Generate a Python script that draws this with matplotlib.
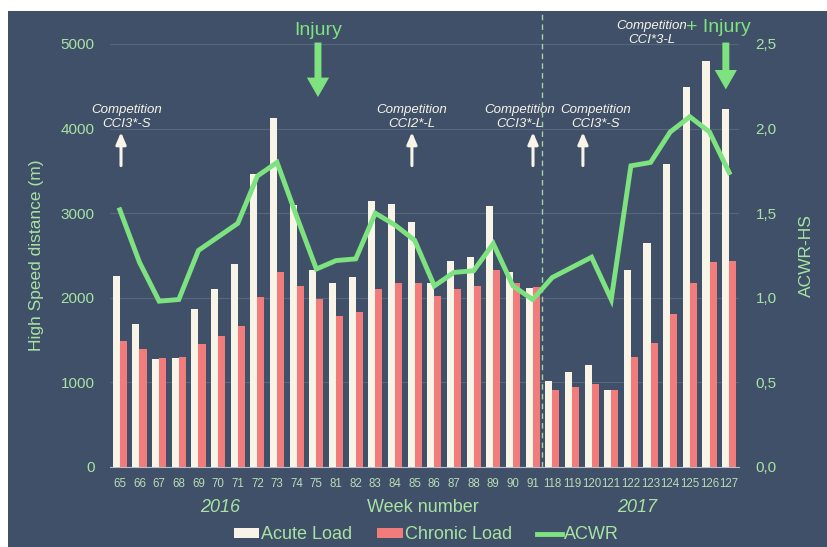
import numpy as np
import matplotlib
matplotlib.use('Agg')
import matplotlib.pyplot as plt
from matplotlib.patches import Rectangle

# ---- data ----
weeks = ['65', '66', '67', '68', '69', '70', '71', '72', '73', '74', '75',
         '81', '82', '83', '84', '85', '86', '87', '88', '89', '90', '91',
         '118', '119', '120', '121', '122', '123', '124', '125', '126', '127']
acute_load = [2260, 1695, 1275, 1290, 1865, 2105, 2405, 3460, 4130, 3100, 2325,
              2170, 2240, 3145, 3110, 2900, 2170, 2440, 2480, 3080, 2310, 2120,
              1020, 1120, 1210, 905, 2325, 2650, 3580, 4490, 4800, 4235]
chronic_load = [1490, 1390, 1290, 1295, 1455, 1550, 1670, 2010, 2300, 2140, 1990,
                1785, 1830, 2105, 2170, 2175, 2025, 2105, 2145, 2330, 2170, 2130,
                910, 945, 980, 910, 1305, 1465, 1805, 2175, 2420, 2430]
acwr = [1.52, 1.21, 0.98, 0.99, 1.28, 1.36, 1.44, 1.72, 1.80, 1.48, 1.17,
        1.22, 1.23, 1.50, 1.43, 1.34, 1.07, 1.15, 1.16, 1.32, 1.07, 0.99,
        1.12, 1.18, 1.24, 0.99, 1.78, 1.80, 1.98, 2.07, 1.98, 1.74]

# competitions: (week, label, arrow offset, text offset) offsets in category units
competitions = [('65', 'Competition\nCCI3*-S', 0.06, 0.36),
                ('85', 'Competition\nCCI2*-L', -0.14, -0.14),
                ('91', 'Competition\nCCI3*-L', 0.02, -0.65),
                ('119', 'Competition\nCCI3*-S', 0.56, 1.22)]
# injuries: (week, label, arrow offset, text offset, arrow tip, text height)
injuries = [('75', 'Injury', 0.08, 0.08, 4340, 5160),
            ('126', '+ Injury', 0.83, 0.43, 4430, 5200)]

# colours
bg = '#3f5068'
cream = '#f8f4e8'
red = '#f27c7c'
green = '#7de27f'
txt_green = '#a9e3a3'
grid_col = '#56667c'

plt.rcParams['font.family'] = ['Liberation Sans', 'DejaVu Sans']

fig = plt.figure(figsize=(8.28, 5.47), dpi=100)
fig.patch.set_facecolor('white')
# dark panel, leaving a thin white strip top and left
fig.patches.append(Rectangle((8 / 828, 0), 1, 1 - 11 / 547, transform=fig.transFigure,
                             facecolor=bg, edgecolor='none', zorder=-10))

ax = fig.add_axes([110 / 828, 1 - 467 / 547, 629 / 828, 423 / 547])
ax.set_facecolor('none')
x = np.arange(len(weeks))
w = 0.36

ax.bar(x - w / 2, acute_load, w, color=cream, label='Acute Load', zorder=3)
ax.bar(x + w / 2, chronic_load, w, color=red, label='Chronic Load', zorder=3)

ax.set_xlim(-0.5, len(weeks) - 0.5)
ax.set_ylim(0, 5000)
ax.set_yticks([0, 1000, 2000, 3000, 4000, 5000])
ax.set_xticks(x)
ax.set_xticklabels(weeks)
ax.tick_params(axis='x', length=0, labelsize=8.3, labelcolor='#b9dcb6', pad=8)
ax.tick_params(axis='y', length=0, labelsize=11, labelcolor=txt_green, pad=11)
ax.grid(axis='y', color=grid_col, linewidth=0.8, zorder=0)
for s in ['top', 'left', 'right']:
    ax.spines[s].set_visible(False)
ax.spines['bottom'].set_color('#b8c0c8')
ax.spines['bottom'].set_linewidth(0.8)
ax.set_ylabel('High Speed distance (m)', fontsize=12.5, color=txt_green, labelpad=12)

# ACWR on the right axis
ax2 = ax.twinx()
ax2.plot(x, acwr, color=green, linewidth=3.5, label='ACWR', zorder=4,
         solid_joinstyle='miter')
ax2.set_ylim(0, 2.5)
ax2.set_yticks([0, 0.5, 1.0, 1.5, 2.0, 2.5])
ax2.set_yticklabels(['0,0', '0,5', '1,0', '1,5', '2,0', '2,5'])
ax2.tick_params(axis='y', length=0, labelsize=11, labelcolor=txt_green, pad=12)
for s in ax2.spines.values():
    s.set_visible(False)
ax2.set_ylabel('ACWR-HS', fontsize=12.5, color=txt_green, labelpad=16)

# dashed separator between 2016 and 2017
ax.axvline(21.5, ymin=0, ymax=(467 - 11) / 423, color='#a8cfa6', linestyle=(0, (4, 3)),
           linewidth=1, clip_on=False, zorder=5)

# competition annotations
for wk, label, dx_arrow, dx_text in competitions:
    i = weeks.index(wk)
    ax.annotate('', xy=(i + dx_arrow, 3990), xytext=(i + dx_arrow, 3530),
                arrowprops=dict(arrowstyle='-|>,head_width=0.3,head_length=0.7',
                                color=cream, lw=2.2), annotation_clip=False)
    ax.text(i + dx_text, 4140, label, ha='center', va='center', fontsize=9.5, color=cream,
            style='italic', linespacing=1.25)
ax.text(weeks.index('123') + 0.07, 5130, 'Competition\nCCI*3-L', ha='center', va='center',
        fontsize=9.5, color=cream, style='italic', linespacing=1.25, clip_on=False)

# injury arrows
for wk, label, dx_arrow, dx_text, tip, ty in injuries:
    i = weeks.index(wk)
    ax.annotate('', xy=(i + dx_arrow, tip), xytext=(i + dx_arrow, 5050),
                arrowprops=dict(arrowstyle='simple,head_width=1.6,tail_width=0.5,head_length=1.4',
                                color=green, lw=0), annotation_clip=False)
    ax.text(i + dx_text, ty, label, ha='center', va='center',
            fontsize=14, color=green, clip_on=False)

# year and axis label under the ticks
ax.text(5.1, -480, '2016', ha='center', va='center', fontsize=13, color=txt_green,
        style='italic', clip_on=False)
ax.text(26.3, -480, '2017', ha='center', va='center', fontsize=13, color=txt_green,
        style='italic', clip_on=False)
ax.text(15.4, -480, 'Week number', ha='center', va='center', fontsize=13, color=txt_green,
        clip_on=False)

# legend
h1, l1 = ax.get_legend_handles_labels()
h2, l2 = ax2.get_legend_handles_labels()
leg = fig.legend(h1 + h2, l1 + l2, loc='center', bbox_to_anchor=(0.515, 0.022), ncol=3,
                 frameon=False, fontsize=13, handlelength=1.4, handleheight=0.5,
                 handletextpad=0.1, columnspacing=1.4, borderaxespad=0)
for t in leg.get_texts():
    t.set_color(txt_green)

plt.savefig('out.png', dpi=100, facecolor=fig.get_facecolor())
